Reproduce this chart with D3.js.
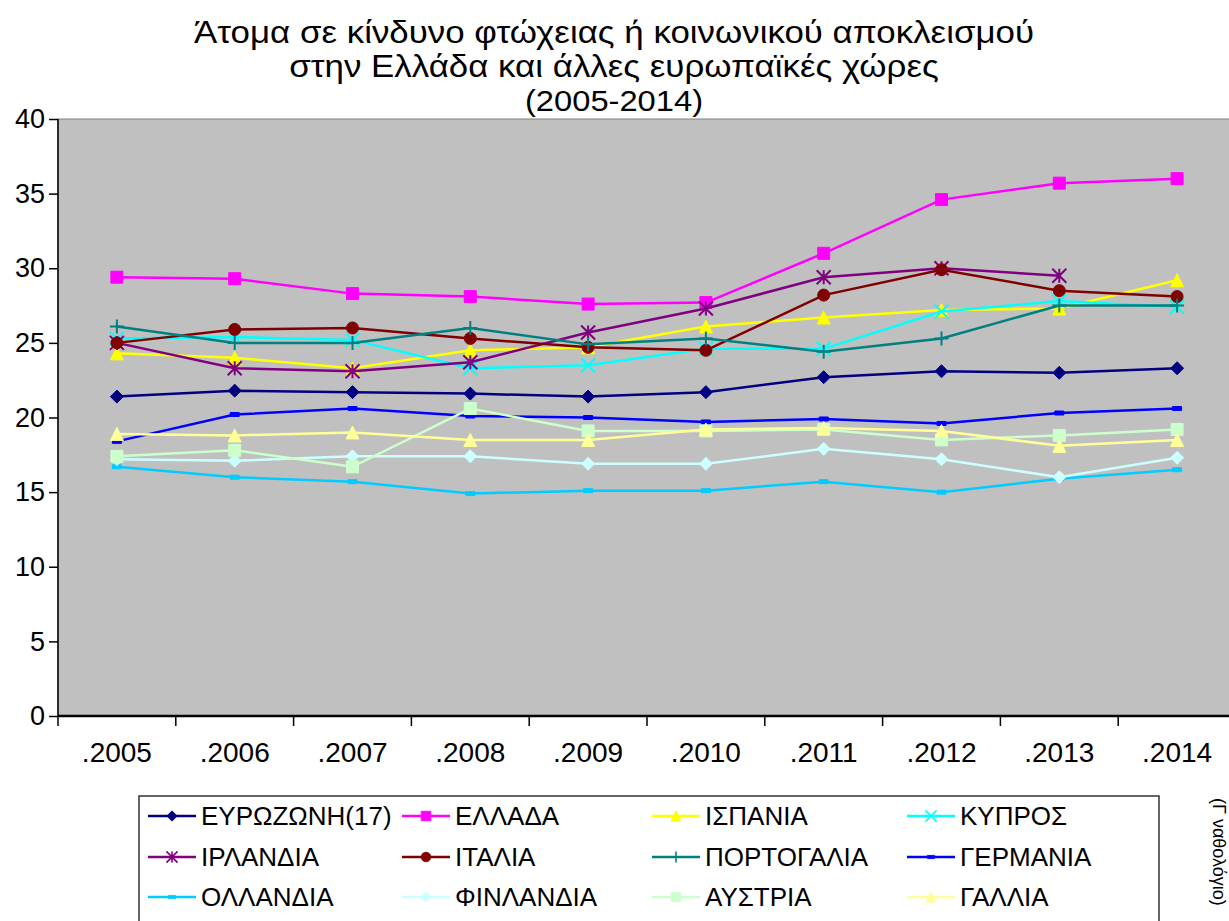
<!DOCTYPE html>
<meta charset="utf-8" />
<style>
  body {
    margin: 0;
    background: #fff;
  }
  text {
    font-family: Arial, "Liberation Sans", sans-serif;
    fill: #000;
  }
  .domain {
    display: none;
  }
</style>
<body>
  <div class="container"></div>

  <script src="https://d3js.org/d3.v7.min.js"></script>
  <script>
    // data
    const years = ["2005", "2006", "2007", "2008", "2009", "2010", "2011", "2012", "2013", "2014"];
    const yearLabels = [".2005", ".2006", ".2007", ".2008", ".2009", ".2010", ".2011", ".2012", ".2013", ".2014"];
    const yTicks = [0, 5, 10, 15, 20, 25, 30, 35, 40];

    const eurozone = [21.4, 21.8, 21.7, 21.6, 21.4, 21.7, 22.7, 23.1, 23.0, 23.3];
    const greece = [29.4, 29.3, 28.3, 28.1, 27.6, 27.7, 31.0, 34.6, 35.7, 36.0];
    const spain = [24.3, 24.0, 23.3, 24.5, 24.7, 26.1, 26.7, 27.2, 27.3, 29.2];
    const cyprus = [25.3, 25.4, 25.2, 23.3, 23.5, 24.6, 24.6, 27.1, 27.8, 27.4];
    const ireland = [25.0, 23.3, 23.1, 23.7, 25.7, 27.3, 29.4, 30.0, 29.5, null];
    const italy = [25.0, 25.9, 26.0, 25.3, 24.7, 24.5, 28.2, 29.9, 28.5, 28.1];
    const portugal = [26.1, 25.0, 25.0, 26.0, 24.9, 25.3, 24.4, 25.3, 27.5, 27.5];
    const germany = [18.4, 20.2, 20.6, 20.1, 20.0, 19.7, 19.9, 19.6, 20.3, 20.6];
    const netherlands = [16.7, 16.0, 15.7, 14.9, 15.1, 15.1, 15.7, 15.0, 15.9, 16.5];
    const finland = [17.2, 17.1, 17.4, 17.4, 16.9, 16.9, 17.9, 17.2, 16.0, 17.3];
    const austria = [17.4, 17.8, 16.7, 20.6, 19.1, 19.1, 19.2, 18.5, 18.8, 19.2];
    const france = [18.9, 18.8, 19.0, 18.5, 18.5, 19.2, 19.3, 19.1, 18.1, 18.5];

    const seriesNames = ["ΕΥΡΩΖΩΝΗ(17)", "ΕΛΛΑΔΑ", "ΙΣΠΑΝΙΑ", "ΚΥΠΡΟΣ", "ΙΡΛΑΝΔΙΑ", "ΙΤΑΛΙΑ",
      "ΠΟΡΤΟΓΑΛΙΑ", "ΓΕΡΜΑΝΙΑ", "ΟΛΛΑΝΔΙΑ", "ΦΙΝΛΑΝΔΙΑ", "ΑΥΣΤΡΙΑ", "ΓΑΛΛΙΑ"];
    const seriesValues = [eurozone, greece, spain, cyprus, ireland, italy,
      portugal, germany, netherlands, finland, austria, france];

    let colorData = ["#000080", "#FF00FF", "#FFFF00", "#00FFFF", "#800080", "#800000",
      "#008080", "#0000FF", "#00CCFF", "#CCFFFF", "#CCFFCC", "#FFFF99"];
    let markerData = ["diamond", "square", "triangle", "cross", "asterisk", "circle",
      "plus", "dash", "dash", "diamond", "square", "triangle"];

    const title = ["Άτομα σε κίνδυνο φτώχειας ή κοινωνικού αποκλεισμού",
      "στην Ελλάδα και άλλες ευρωπαϊκές χώρες", "(2005-2014)"];

    const W = 1229, H = 921;
    const plot = { left: 58, top: 119, right: 1236, bottom: 716 };

    var svg = d3.select(".container").append("svg")
      .attr("width", W).attr("height", H);

    let x = d3.scaleBand().domain(years).range([plot.left, plot.right]);
    let y = d3.scaleLinear().domain([0, 40]).range([plot.bottom, plot.top]);

    // title (narrowed a little so the lines sit close like the original)
    svg.selectAll(".title").data(title).enter().append("text")
      .attr("class", "title")
      .attr("text-anchor", "middle")
      .attr("font-size", (d, i) => (i === 2 ? 30 : 32))
      .attr("transform", (d, i) => "translate(614," + (43 + i * 34) + ") scale(1.09,1)")
      .text(d => d);

    // plot background
    svg.append("rect")
      .attr("x", plot.left).attr("y", plot.top)
      .attr("width", plot.right - plot.left).attr("height", plot.bottom - plot.top)
      .attr("fill", "#C0C0C0")
      .attr("stroke", "#808080").attr("stroke-width", 1);

    // y axis
    const yAxis = svg.append("g")
      .attr("transform", "translate(" + plot.left + ",0)")
      .call(d3.axisLeft(y).tickValues(yTicks).tickSize(9).tickPadding(4));
    yAxis.selectAll(".tick line").attr("stroke", "#000").attr("stroke-width", 1.5);
    yAxis.selectAll(".tick text")
      .attr("font-size", 27)
      .attr("font-family", "Arial, 'Liberation Sans', sans-serif")
      .attr("fill", "#000");

    svg.append("line")
      .attr("x1", plot.left).attr("x2", plot.left)
      .attr("y1", plot.top).attr("y2", plot.bottom)
      .attr("stroke", "#000").attr("stroke-width", 1.5);
    svg.append("line")
      .attr("x1", plot.left).attr("x2", plot.right)
      .attr("y1", plot.bottom).attr("y2", plot.bottom)
      .attr("stroke", "#000").attr("stroke-width", 2.5);

    // x axis: ticks between categories, labels centered
    const bounds = years.map(d => x(d)).concat([x.range()[1]]);
    svg.selectAll(".xtick").data(bounds).enter().append("line")
      .attr("class", "xtick")
      .attr("x1", d => d).attr("x2", d => d)
      .attr("y1", plot.bottom).attr("y2", plot.bottom + 10)
      .attr("stroke", "#000").attr("stroke-width", 1.5);
    svg.selectAll(".xlabel").data(years).enter().append("text")
      .attr("class", "xlabel")
      .attr("text-anchor", "middle")
      .attr("font-size", 28)
      .attr("x", d => x(d) + x.bandwidth() / 2)
      .attr("y", 762)
      .text((d, i) => yearLabels[i]);

    // markers
    function markerPath(type, s) {
      const h = s / 2;
      switch (type) {
        case "diamond":
          return "M0," + -h + "L" + h + ",0L0," + h + "L" + -h + ",0Z";
        case "square":
          return "M" + -h + "," + -h + "h" + s + "v" + s + "h" + -s + "Z";
        case "triangle":
          return "M0," + -h + "L" + h + "," + h + "L" + -h + "," + h + "Z";
        case "circle":
          return d3.symbol(d3.symbolCircle, Math.PI * h * h)();
        case "cross":
          return "M" + -h + "," + -h + "L" + h + "," + h + "M" + h + "," + -h + "L" + -h + "," + h;
        case "asterisk":
          return "M" + -h + "," + -h + "L" + h + "," + h + "M" + h + "," + -h + "L" + -h + "," + h +
            "M0," + -h + "V" + h;
        case "plus":
          return "M" + -h + ",0H" + h + "M0," + -h + "V" + h;
        case "dash":
          return "M" + -h + ",-2h" + s + "v4h" + -s + "Z";
      }
    }
    const filled = t => t !== "cross" && t !== "asterisk" && t !== "plus";
    const markerSize = { diamond: 13, square: 12, triangle: 13, circle: 12, cross: 14, asterisk: 14, plus: 14, dash: 9 };

    function drawMarker(g, type, color) {
      g.append("path")
        .attr("d", markerPath(type, markerSize[type]))
        .attr("fill", filled(type) ? color : "none")
        .attr("stroke", color)
        .attr("stroke-width", filled(type) ? 1 : 2);
    }

    const line = d3.line()
      .defined(d => d.v != null)
      .x(d => x(d.year) + x.bandwidth() / 2)
      .y(d => y(d.v));

    seriesValues.forEach(function (vals, s) {
      const pts = years.map((yr, i) => ({ year: yr, v: vals[i] }));
      const g = svg.append("g");
      g.append("path")
        .datum(pts)
        .attr("d", line)
        .attr("fill", "none")
        .attr("stroke", colorData[s])
        .attr("stroke-width", 2.5);
      pts.filter(d => d.v != null).forEach(function (d) {
        const m = g.append("g")
          .attr("transform", "translate(" + (x(d.year) + x.bandwidth() / 2) + "," + y(d.v) + ")");
        drawMarker(m, markerData[s], colorData[s]);
      });
    });

    // legend
    svg.append("rect")
      .attr("x", 139).attr("y", 796)
      .attr("width", 1020).attr("height", 140)
      .attr("fill", "#fff")
      .attr("stroke", "#333").attr("stroke-width", 1.5);
    const colX = [148, 402, 652, 907];
    const rowY = [816, 857, 897];
    seriesNames.forEach(function (name, i) {
      const lx = colX[i % 4], ly = rowY[Math.floor(i / 4)];
      const g = svg.append("g").attr("transform", "translate(" + lx + "," + ly + ")");
      g.append("line")
        .attr("x1", 0).attr("x2", 48).attr("y1", 0).attr("y2", 0)
        .attr("stroke", colorData[i]).attr("stroke-width", 2.5);
      const m = g.append("g").attr("transform", "translate(24,0) scale(0.8)");
      drawMarker(m, markerData[i], colorData[i]);
      g.append("text")
        .attr("font-size", 26)
        .attr("dy", "0.36em")
        .attr("x", 53)
        .text(name);
    });

    // cut-off side note on the right edge
    svg.append("text")
      .attr("font-size", 18)
      .attr("fill", "#333")
      .attr("transform", "translate(1213,798) rotate(90)")
      .text("(Γ ναθολόγιο)");
  </script>
</body>
